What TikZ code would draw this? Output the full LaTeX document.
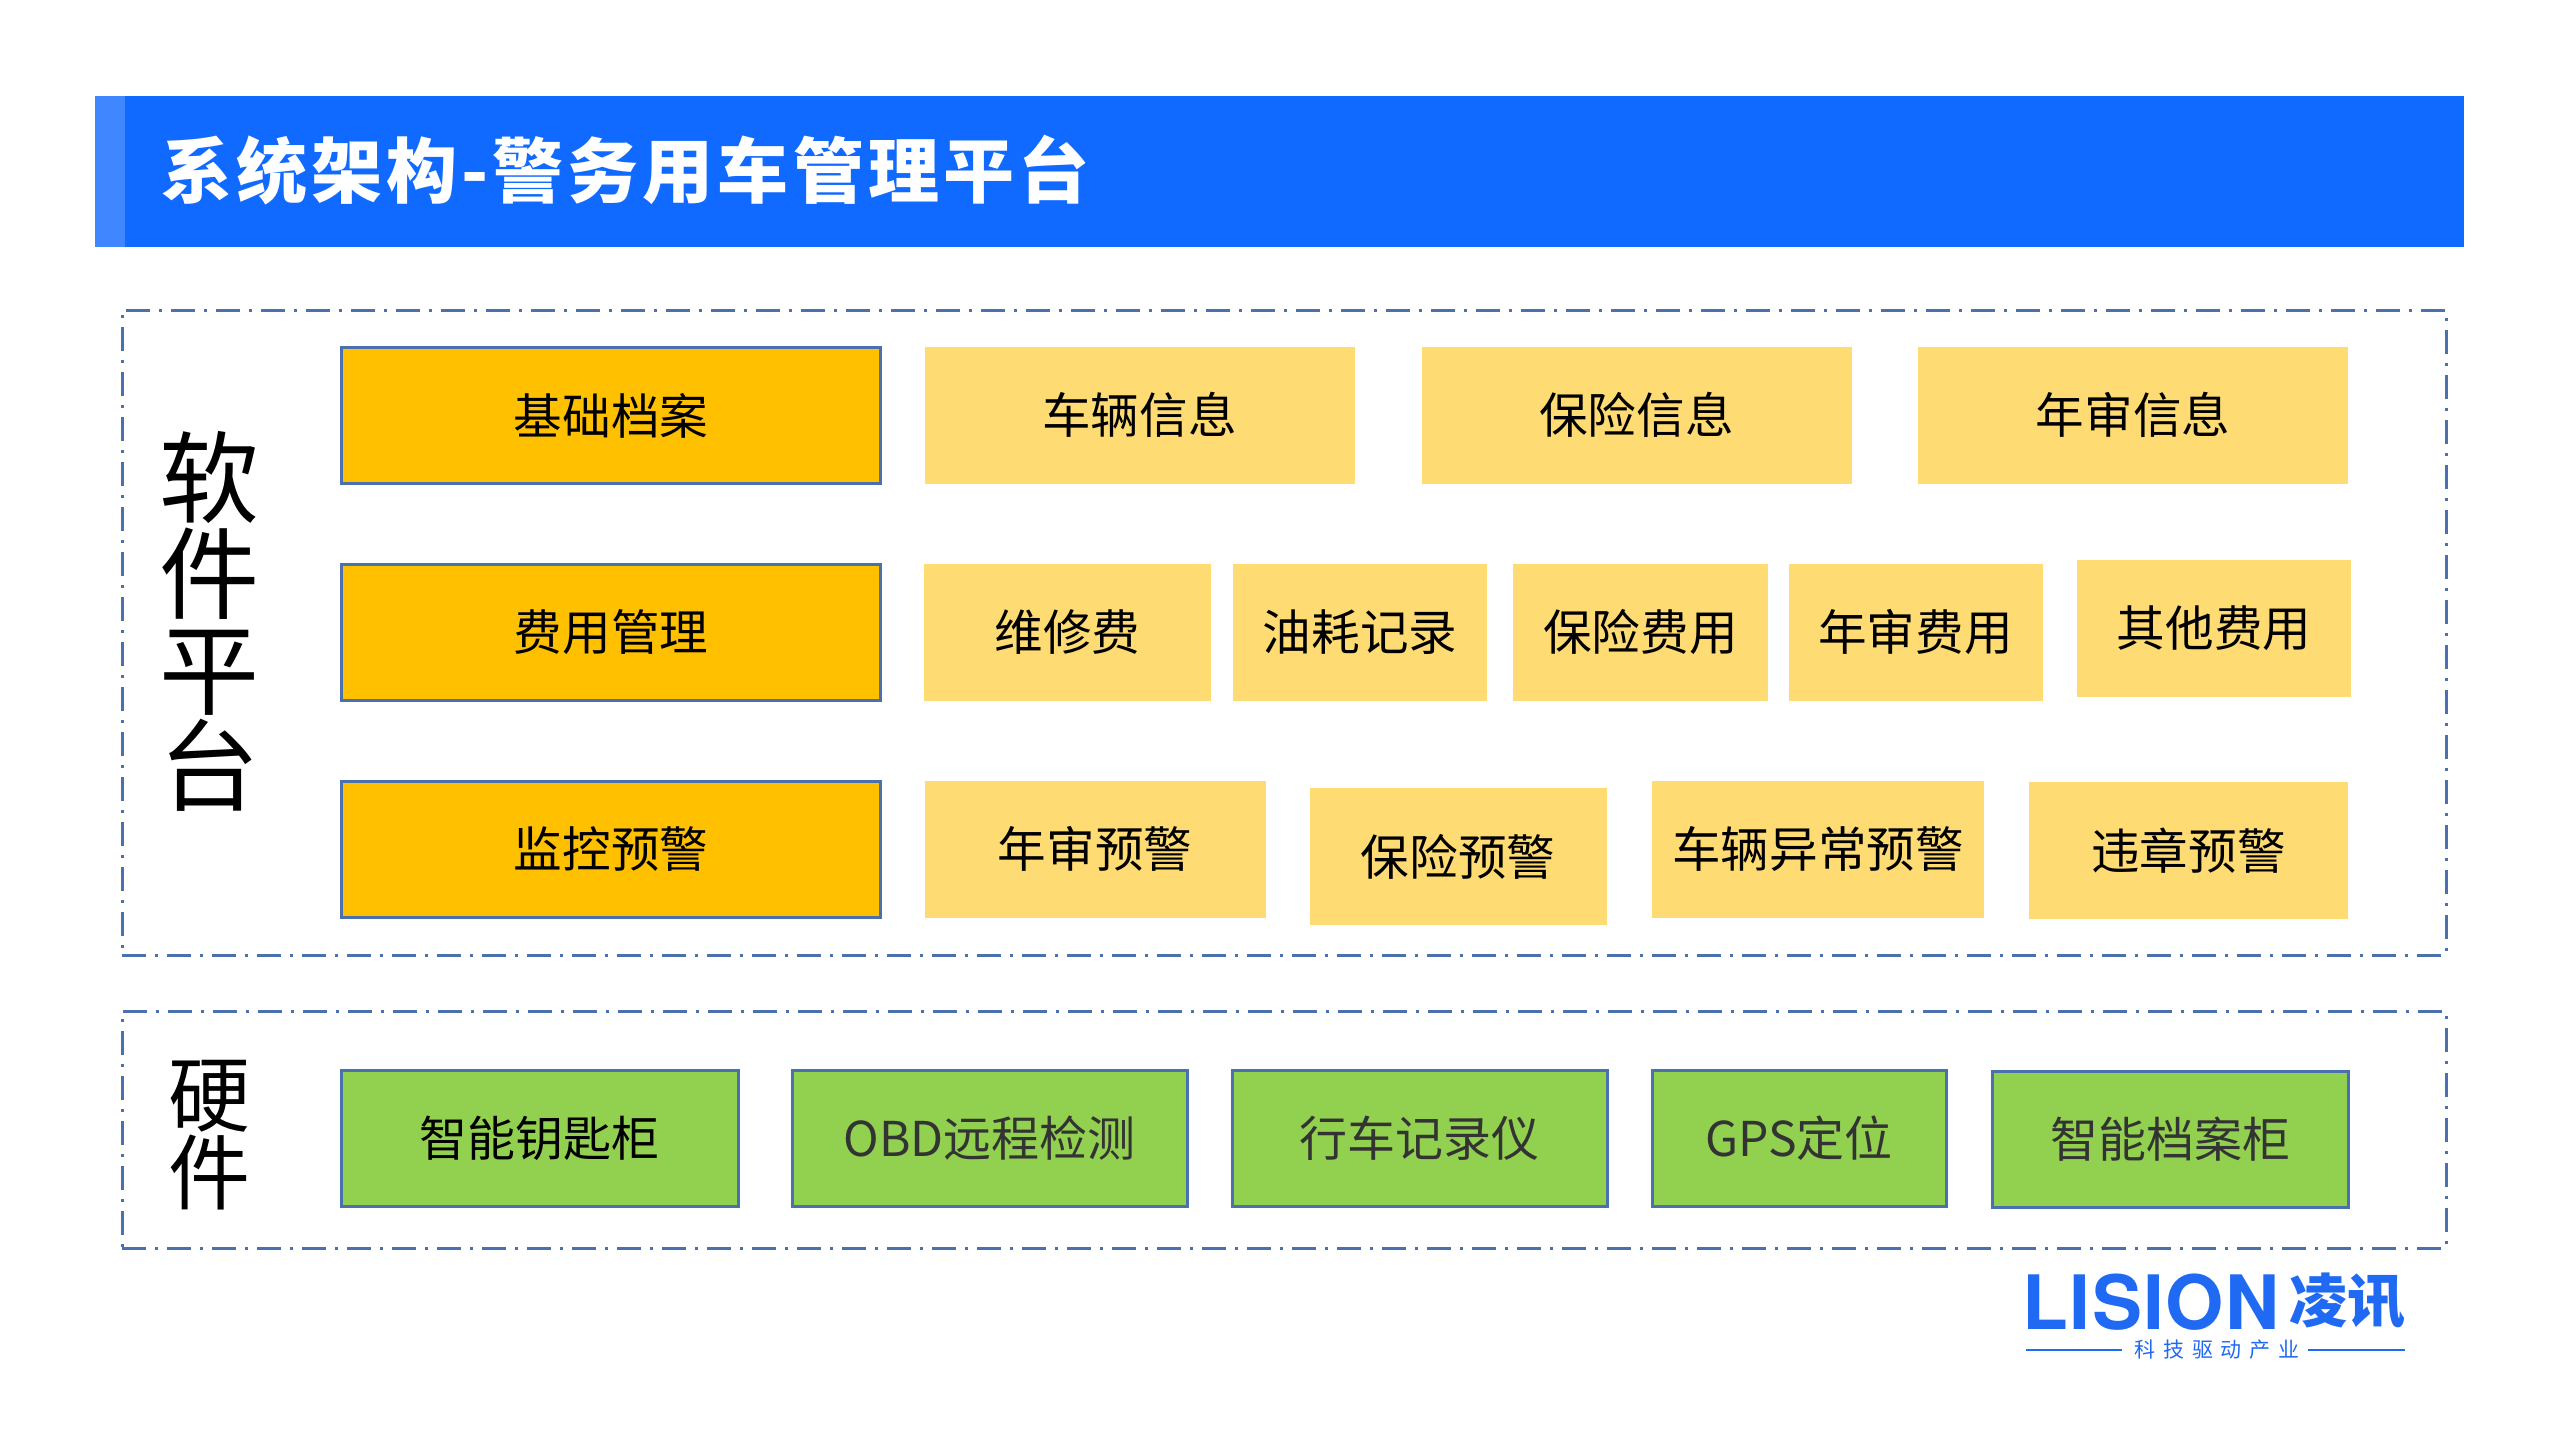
\documentclass[tikz,border=0pt]{standalone}
\usepackage{fontspec}
\usepackage{xcolor}
\setmainfont{Noto Sans CJK SC}
\newfontfamily\logofont{TeX Gyre Heros}
\definecolor{titleblue}{HTML}{106AFF}
\definecolor{stripblue}{HTML}{3F86FF}
\definecolor{rimblue}{HTML}{4A70AD}
\definecolor{logoblue}{HTML}{1F69F3}
\definecolor{softyellow}{HTML}{FFDB73}
\definecolor{deeporange}{HTML}{FFC000}
\definecolor{hardgreen}{HTML}{92D050}
\tikzset{
  zone/.style={draw=rimblue,line width=1.5pt,dash pattern=on 12pt off 4.5pt on 1.5pt off 4.5pt,inner sep=0pt},
  mainbox/.style={draw=rimblue,line width=1.5pt,fill=deeporange,minimum width=269.5pt,minimum height=68pt,inner sep=0pt,font=\fontsize{24.3}{28}\selectfont},
  subbox/.style={fill=softyellow,minimum height=68.5pt,inner sep=0pt,font=\fontsize{24.3}{28}\selectfont},
  hardbox/.style={draw=rimblue,line width=1.5pt,fill=hardgreen,minimum height=68pt,inner sep=0pt,font=\fontsize{24}{28}\selectfont},
  grayhard/.style={hardbox,text=black!80}
}
\begin{document}
\begin{tikzpicture}[x=0.5pt,y=-0.5pt]
\useasboundingbox (0,0) rectangle (2560,1440);
% title bar
\node (Bar) [fill=titleblue,minimum width=1184.5pt,minimum height=75.5pt,inner sep=0pt] at (1279,171.5) {};
\node (Strip) [fill=stripblue,minimum width=15pt,minimum height=75.5pt,inner sep=0pt] at (110,171.5) {};
\node (Title) [anchor=west,inner sep=0pt,text=white,font=\fontsize{35.5}{40}\bfseries\selectfont\addfontfeature{LetterSpace=5.7}] at (161,170) {系统架构-警务用车管理平台};
% dashed frames
\node (Soft) [zone,minimum width=1162pt,minimum height=322.5pt] at (1284,632.5) {};
\node (Hard) [zone,minimum width=1162pt,minimum height=118.5pt] at (1284,1129.5) {};
\node (SoftT) [align=center,inner sep=0pt,font=\fontsize{50}{48}\selectfont] at (209,621) {软\\件\\平\\台};
\node (HardT) [align=center,inner sep=0pt,font=\fontsize{41}{39}\selectfont] at (209,1135) {硬\\件};
% first row
\node (Base) [mainbox] at (611,415.5) {基础档案};
\node (Car) [subbox,minimum width=215pt] at (1139.5,415) {车辆信息};
\node (Ins) [subbox,minimum width=215pt] at (1636.5,415) {保险信息};
\node (Year) [subbox,minimum width=215pt] at (2133,415) {年审信息};
% second row
\node (Fee) [mainbox] at (611,632) {费用管理};
\node (Fix) [subbox,minimum width=143.5pt] at (1067.5,632) {维修费};
\node (Oil) [subbox,minimum width=127pt] at (1360,632) {油耗记录};
\node (InsFee) [subbox,minimum width=127.5pt] at (1640.5,632) {保险费用};
\node (YearFee) [subbox,minimum width=127pt] at (1915.5,632) {年审费用};
\node (Other) [subbox,minimum width=137pt] at (2214,628.5) {其他费用};
% third row
\node (Watch) [mainbox] at (611,849) {监控预警};
\node (YearW) [subbox,minimum width=170.5pt] at (1095,849) {年审预警};
\node (InsW) [subbox,minimum width=148.5pt] at (1458,856.5) {保险预警};
\node (CarW) [subbox,minimum width=166pt] at (1818,849) {车辆异常预警};
\node (Rule) [subbox,minimum width=159.5pt] at (2188.5,850.5) {违章预警};
% hardware row
\node (Key) [hardbox,minimum width=198.5pt] at (539.5,1138) {智能钥匙柜};
\node (Obd) [grayhard,minimum width=197.5pt] at (989.5,1138) {OBD远程检测};
\node (Rec) [grayhard,minimum width=187.5pt] at (1419.5,1138) {行车记录仪};
\node (Gps) [grayhard,minimum width=147pt] at (1799,1138) {GPS定位};
\node (Cab) [grayhard,minimum width=178pt] at (2170,1139) {智能档案柜};
% logo
\node (Logo) [anchor=west,inner sep=0pt,text=logoblue,font=\logofont\fontsize{37.5}{40}\bfseries\selectfont\addfontfeature{LetterSpace=2}] at (2022,1302) {LISION};
\node (LogoC) [anchor=west,inner sep=0pt,text=logoblue,font=\fontsize{29}{30}\bfseries\selectfont] at (2289,1301) {凌讯};
\node (Slogan) [inner sep=0pt,text=logoblue,font=\fontsize{10.5}{12}\selectfont\addfontfeature{LetterSpace=38}] at (2217,1350) {科技驱动产业};
\coordinate (LineA) at (2026,1350);
\coordinate (LineB) at (2122,1350);
\coordinate (LineC) at (2308,1350);
\coordinate (LineD) at (2405,1350);
\draw [logoblue,line width=0.75pt] (LineA) -- (LineB) (LineC) -- (LineD);
\end{tikzpicture}
\end{document}
